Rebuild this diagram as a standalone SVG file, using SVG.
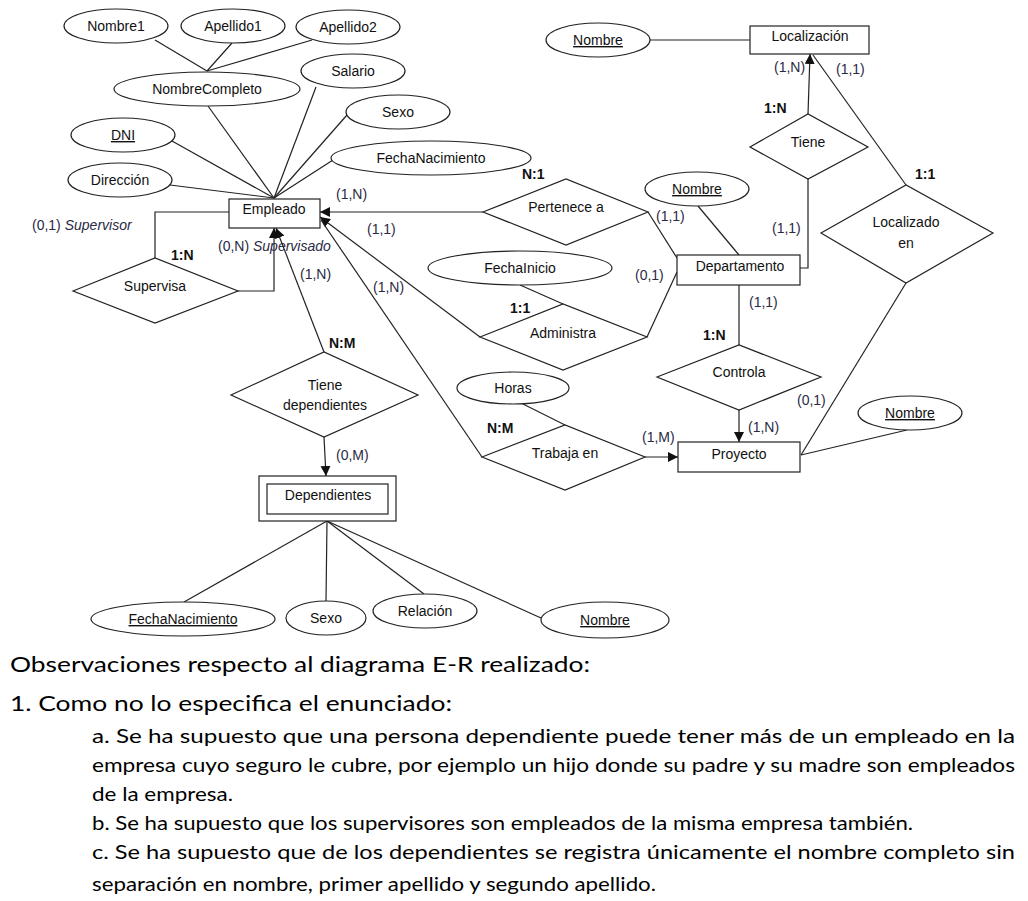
<svg xmlns="http://www.w3.org/2000/svg" width="1028" height="901" viewBox="0 0 1028 901">
<defs>
<marker id="arr" viewBox="0 0 10 10" refX="10" refY="5" markerWidth="10" markerHeight="10" markerUnits="userSpaceOnUse" orient="auto"><path d="M0,0 L10,5 L0,10 z" fill="#111"/></marker>
</defs>
<style>
.s{fill:#fff;stroke:#222;stroke-width:1.2}
.c{fill:none;stroke:#222;stroke-width:1.2}
.t{font-family:"Liberation Sans",Arial,sans-serif;font-size:14px;fill:#111;text-anchor:middle}
.k{font-family:"Liberation Sans",Arial,sans-serif;font-size:14px;fill:#2a2a44}
.b{font-family:"Liberation Sans",Arial,sans-serif;font-size:14px;font-weight:bold;fill:#111}
.i{font-style:italic}
.u{text-decoration:underline}
.h{font-family:Lato,"Liberation Sans",sans-serif;font-size:21px;fill:#000}
.p{font-family:Lato,"Liberation Sans",sans-serif;font-size:20px;fill:#000}
</style>
<rect width="1028" height="901" fill="#fff"/>
<g id="connectors">
<line class="c" x1="155" y1="40" x2="207" y2="71"/>
<line class="c" x1="232" y1="43" x2="207" y2="71"/>
<line class="c" x1="312" y1="40" x2="207" y2="71"/>
<line class="c" x1="208" y1="106" x2="274" y2="198"/>
<line class="c" x1="316" y1="87" x2="274" y2="198"/>
<line class="c" x1="347" y1="115" x2="274" y2="198"/>
<line class="c" x1="333" y1="160" x2="274" y2="198"/>
<line class="c" x1="172" y1="141" x2="274" y2="198"/>
<line class="c" x1="170" y1="185" x2="274" y2="198"/>
<polyline class="c" points="155,258 155,212 229,212"/>
<polyline class="c" points="238,291 274,291 274,228" marker-end="url(#arr)"/>
<line class="c" x1="483" y1="212" x2="320" y2="212" marker-end="url(#arr)"/>
<line class="c" x1="648" y1="212" x2="677" y2="258"/>
<line class="c" x1="480" y1="337" x2="320" y2="217" marker-end="url(#arr)"/>
<line class="c" x1="647" y1="337" x2="677" y2="272"/>
<line class="c" x1="520" y1="285" x2="563" y2="304"/>
<line class="c" x1="482" y1="457" x2="321" y2="220"/>
<line class="c" x1="523" y1="404" x2="565" y2="425"/>
<line class="c" x1="645" y1="457" x2="678" y2="457" marker-end="url(#arr)"/>
<line class="c" x1="324" y1="352" x2="276" y2="228" marker-end="url(#arr)"/>
<line class="c" x1="324" y1="437" x2="326" y2="476" marker-end="url(#arr)"/>
<line class="c" x1="327" y1="521" x2="184" y2="602"/>
<line class="c" x1="327" y1="521" x2="326" y2="601"/>
<line class="c" x1="327" y1="521" x2="424" y2="594"/>
<line class="c" x1="327" y1="521" x2="541" y2="618"/>
<line class="c" x1="650" y1="40" x2="750" y2="40"/>
<line class="c" x1="808" y1="114" x2="810" y2="54" marker-end="url(#arr)"/>
<line class="c" x1="906" y1="185" x2="813" y2="55"/>
<polyline class="c" points="808,179 808,268 800,268"/>
<line class="c" x1="698" y1="206" x2="739" y2="255"/>
<line class="c" x1="739" y1="285" x2="739" y2="345"/>
<line class="c" x1="739" y1="410" x2="739" y2="442" marker-end="url(#arr)"/>
<line class="c" x1="906" y1="283" x2="801" y2="455"/>
<line class="c" x1="907" y1="430" x2="801" y2="455"/>
</g>
<g id="Nombre1"><ellipse class="s" cx="116" cy="26" rx="52" ry="17"/><text class="t" x="116" y="31">Nombre1</text></g>
<g id="Apellido1"><ellipse class="s" cx="233" cy="26" rx="52" ry="17"/><text class="t" x="233" y="31">Apellido1</text></g>
<g id="Apellido2"><ellipse class="s" cx="348" cy="27" rx="52" ry="17"/><text class="t" x="348" y="32">Apellido2</text></g>
<g id="NombreCompleto"><ellipse class="s" cx="207" cy="89" rx="93" ry="17"/><text class="t" x="207" y="94">NombreCompleto</text></g>
<g id="Salario"><ellipse class="s" cx="353" cy="71" rx="52" ry="17"/><text class="t" x="353" y="76">Salario</text></g>
<g id="Sexo"><ellipse class="s" cx="398" cy="112" rx="52" ry="17"/><text class="t" x="398" y="117">Sexo</text></g>
<g id="DNI"><ellipse class="s" cx="123" cy="135" rx="52" ry="17"/><text class="t u" x="123" y="140">DNI</text></g>
<g id="Direccion"><ellipse class="s" cx="120" cy="180" rx="52" ry="17"/><text class="t" x="120" y="185">Dirección</text></g>
<g id="FechaNacimiento"><ellipse class="s" cx="431" cy="158" rx="100" ry="17"/><text class="t" x="431" y="163">FechaNacimiento</text></g>
<g id="Empleado"><rect class="s" x="229" y="199" width="91" height="29"/><text class="t" x="274" y="214">Empleado</text></g>
<g id="Supervisa"><polygon class="s" points="73,291 155,258 238,291 155,323"/><text class="t" x="155" y="291">Supervisa</text></g>
<g id="PerteneceA"><polygon class="s" points="483,212 566,179 648,212 566,245"/><text class="t" x="566" y="212">Pertenece a</text></g>
<g id="FechaInicio"><ellipse class="s" cx="520" cy="268" rx="92" ry="17"/><text class="t" x="520" y="273">FechaInicio</text></g>
<g id="Administra"><polygon class="s" points="480,337 563,304 647,337 563,370"/><text class="t" x="563" y="338">Administra</text></g>
<g id="Horas"><ellipse class="s" cx="513" cy="388" rx="56" ry="16"/><text class="t" x="513" y="393">Horas</text></g>
<g id="TrabajaEn"><polygon class="s" points="482,457 565,425 645,457 565,490"/><text class="t" x="565" y="458">Trabaja en</text></g>
<g id="TieneDependientes"><polygon class="s" points="231,395 324,352 418,395 324,437"/><text class="t" x="325" y="390">Tiene</text><text class="t" x="325" y="410">dependientes</text></g>
<g id="Dependientes"><rect class="s" x="259" y="476" width="137" height="45"/><rect class="s" x="267" y="484" width="121" height="30"/><text class="t" x="328" y="500">Dependientes</text></g>
<g id="FechaNacimientoDep"><ellipse class="s" cx="183" cy="619" rx="92" ry="17"/><text class="t u" x="183" y="624">FechaNacimiento</text></g>
<g id="SexoDep"><ellipse class="s" cx="326" cy="618" rx="40" ry="17"/><text class="t" x="326" y="623">Sexo</text></g>
<g id="Relacion"><ellipse class="s" cx="425" cy="611" rx="52" ry="17"/><text class="t" x="425" y="616">Relación</text></g>
<g id="NombreDep"><ellipse class="s" cx="605" cy="620" rx="64" ry="18"/><text class="t u" x="605" y="625">Nombre</text></g>
<g id="NombreLoc"><ellipse class="s" cx="598" cy="40" rx="52" ry="17"/><text class="t u" x="598" y="45">Nombre</text></g>
<g id="Localizacion"><rect class="s" x="750" y="26" width="119" height="28"/><text class="t" x="810" y="41">Localización</text></g>
<g id="Tiene"><polygon class="s" points="750,147 808,114 868,147 808,179"/><text class="t" x="808" y="147">Tiene</text></g>
<g id="LocalizadoEn"><polygon class="s" points="821,233 906,185 993,233 906,283"/><text class="t" x="906" y="227">Localizado</text><text class="t" x="906" y="248">en</text></g>
<g id="NombreDepto"><ellipse class="s" cx="697" cy="189" rx="52" ry="17"/><text class="t u" x="697" y="194">Nombre</text></g>
<g id="Departamento"><rect class="s" x="677" y="255" width="123" height="30"/><text class="t" x="740" y="271">Departamento</text></g>
<g id="Controla"><polygon class="s" points="657,377 739,345 821,377 739,410"/><text class="t" x="739" y="377">Controla</text></g>
<g id="Proyecto"><rect class="s" x="678" y="442" width="122" height="30"/><text class="t" x="739" y="459">Proyecto</text></g>
<g id="NombreProy"><ellipse class="s" cx="910" cy="413" rx="52" ry="17"/><text class="t u" x="910" y="418">Nombre</text></g>
<g id="labels">
<text class="k" x="32" y="230">(0,1) <tspan class="i">Supervisor</tspan></text>
<text class="b" x="171" y="260">1:N</text>
<text class="k" x="218" y="251">(0,N) <tspan class="i">Supervisado</tspan></text>
<text class="k" x="336" y="199">(1,N)</text>
<text class="k" x="367" y="234">(1,1)</text>
<text class="k" x="300" y="279">(1,N)</text>
<text class="k" x="373" y="292">(1,N)</text>
<text class="b" x="522" y="179">N:1</text>
<text class="k" x="656" y="221">(1,1)</text>
<text class="k" x="635" y="280">(0,1)</text>
<text class="b" x="510" y="313">1:1</text>
<text class="b" x="329" y="348">N:M</text>
<text class="k" x="336" y="460">(0,M)</text>
<text class="b" x="487" y="433">N:M</text>
<text class="k" x="642" y="442">(1,M)</text>
<text class="k" x="774" y="72">(1,N)</text>
<text class="k" x="836" y="74">(1,1)</text>
<text class="b" x="764" y="113">1:N</text>
<text class="k" x="772" y="233">(1,1)</text>
<text class="b" x="915" y="179">1:1</text>
<text class="k" x="749" y="307">(1,1)</text>
<text class="b" x="703" y="340">1:N</text>
<text class="k" x="797" y="405">(0,1)</text>
<text class="k" x="748" y="432">(1,N)</text>
</g>
<g id="notes">
<text class="h" x="10" y="672" textLength="580" lengthAdjust="spacingAndGlyphs">Observaciones respecto al diagrama E-R realizado:</text>
<text class="h" x="10" y="711" textLength="442" lengthAdjust="spacingAndGlyphs">1. Como no lo especifica el enunciado:</text>
<text class="p" x="92" y="743" textLength="923" lengthAdjust="spacingAndGlyphs">a. Se ha supuesto que una persona dependiente puede tener más de un empleado en la</text>
<text class="p" x="92" y="772" textLength="923" lengthAdjust="spacingAndGlyphs">empresa cuyo seguro le cubre, por ejemplo un hijo donde su padre y su madre son empleados</text>
<text class="p" x="92" y="801" textLength="141" lengthAdjust="spacingAndGlyphs">de la empresa.</text>
<text class="p" x="92" y="830" textLength="821" lengthAdjust="spacingAndGlyphs">b. Se ha supuesto que los supervisores son empleados de la misma empresa también.</text>
<text class="p" x="92" y="859" textLength="923" lengthAdjust="spacingAndGlyphs">c. Se ha supuesto que de los dependientes se registra únicamente el nombre completo sin</text>
<text class="p" x="92" y="891" textLength="564" lengthAdjust="spacingAndGlyphs">separación en nombre, primer apellido y segundo apellido.</text>
</g>
</svg>
